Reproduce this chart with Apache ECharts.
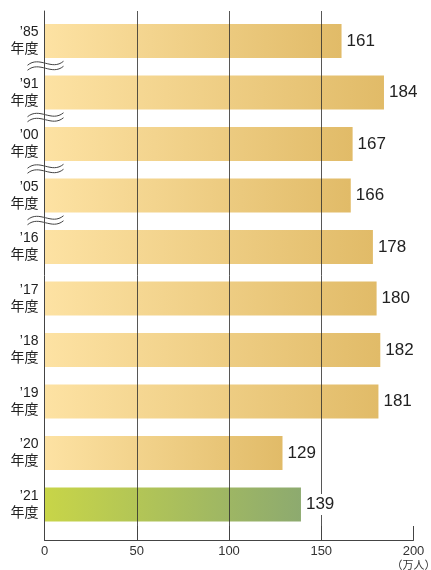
<!DOCTYPE html>
<html>
<head>
<meta charset="utf-8">
<script src="https://cdn.jsdelivr.net/npm/echarts@6/dist/echarts.min.js"></script>
<style>
html,body{margin:0;padding:0;background:#fff;}
#c{width:431px;height:570px;}
</style>
</head>
<body>
<div id="c"></div>
<script>
const years = ['’85', '’91', '’00', '’05', '’16', '’17', '’18', '’19', '’20', '’21'];
const values = [161, 184, 167, 166, 178, 180, 182, 181, 129, 139];
const highlight = [false, false, false, false, false, false, false, false, false, true];
const breaksAfter = [0, 1, 2, 3];
const xTicks = [0, 50, 100, 150, 200];
const unitLabel = '（万人）';

const FONT = '"Liberation Sans", Arial, "Noto Sans CJK JP", sans-serif';
const goldGrad = new echarts.graphic.LinearGradient(0, 0, 1, 0, [
  {offset: 0, color: '#fde2a3'},
  {offset: 1, color: '#e1bb68'}
]);
const greenGrad = new echarts.graphic.LinearGradient(0, 0, 1, 0, [
  {offset: 0, color: '#c8d548'},
  {offset: 1, color: '#8daa6f'}
]);

const chart = echarts.init(document.getElementById('c'), null, {renderer: 'canvas'});

const barData = values.map((v, i) => ({
  value: v,
  itemStyle: {color: highlight[i] ? greenGrad : goldGrad}
}));

chart.setOption({
  animation: false,
  backgroundColor: '#fff',
  textStyle: {fontFamily: FONT},
  grid: [
    {left: 44.5, right: 17.5, top: 15.25, height: 515, containLabel: false, outerBoundsMode: 'none'},
    {left: 44.5, right: 17.5, top: 11, height: 529, containLabel: false, outerBoundsMode: 'none'}
  ],
  xAxis: [
    {gridIndex: 0, type: 'value', min: 0, max: 200, interval: 50, show: false},
    {
      gridIndex: 1, type: 'value', min: 0, max: 200, interval: 50, z: 5,
      axisLine: {show: true, onZero: false, lineStyle: {color: '#444', width: 1}},
      axisTick: {show: true, inside: true, length: 14, lineStyle: {color: '#444', width: 1}},
      splitLine: {show: true, showMinLine: false, showMaxLine: false, lineStyle: {color: 'rgba(40,40,40,0.78)', width: 1}},
      axisLabel: {
        color: '#333', fontSize: 13, margin: 4, fontFamily: FONT, lineHeight: 14,
        formatter: v => v === xTicks[xTicks.length - 1] ? v + '\n{u|' + unitLabel + '}' : String(v),
        rich: {u: {fontSize: 11, color: '#333', fontFamily: '"Noto Sans CJK JP", sans-serif', lineHeight: 14}}
      }
    }
  ],
  yAxis: [
    {
      gridIndex: 0, type: 'category', data: years.map(y => y + '\n年度'), inverse: true,
      axisLine: {show: false}, axisTick: {show: false}, splitLine: {show: false},
      axisLabel: {color: '#222', fontSize: 14, lineHeight: 17, margin: 6, fontFamily: FONT}
    },
    {
      gridIndex: 1, type: 'value', min: 0, max: 1, z: 5,
      axisLine: {show: true, onZero: false, lineStyle: {color: '#444', width: 1}},
      axisTick: {show: false}, axisLabel: {show: false}, splitLine: {show: false}
    }
  ],
  series: [
    {
      type: 'bar', xAxisIndex: 0, yAxisIndex: 0, data: barData,
      barWidth: 34, z: 2
    },
    {
      type: 'bar', xAxisIndex: 0, yAxisIndex: 0, data: values,
      barWidth: 34, barGap: '-100%', z: 10, silent: true,
      itemStyle: {color: 'rgba(0,0,0,0)'},
      label: {
        show: true, position: 'right', distance: 3,
        color: '#222', fontSize: 17, fontFamily: FONT,
        backgroundColor: '#fff', padding: [3, 2, 1, 2]
      }
    }
  ]
});

// axis-break wave decorations between early categories
function bez(t, p0, p1, p2, p3) {
  const u = 1 - t;
  return u * u * u * p0 + 3 * u * u * t * p1 + 3 * u * t * t * p2 + t * t * t * p3;
}
const W = {x1: -18, y1: 1, cx1: -6, cy1: -9, cx2: 6, cy2: 7, x2: 18, y2: -3};
const GAP = 5;
const pts = [];
for (let k = 0; k <= 20; k++) {
  const t = k / 20;
  pts.push([bez(t, W.x1, W.cx1, W.cx2, W.x2), bez(t, W.y1, W.cy1, W.cy2, W.y2)]);
}
const fillPts = pts.concat(pts.slice().reverse().map(p => [p[0], p[1] + GAP]));

const x0 = chart.convertToPixel({xAxisIndex: 0}, 0);
const graphics = breaksAfter.map(i => {
  const y = (chart.convertToPixel({yAxisIndex: 0}, i) + chart.convertToPixel({yAxisIndex: 0}, i + 1)) / 2 - GAP / 2;
  const curve = dy => ({
    type: 'bezierCurve',
    shape: {x1: W.x1, y1: W.y1 + dy, cpx1: W.cx1, cpy1: W.cy1 + dy, cpx2: W.cx2, cpy2: W.cy2 + dy, x2: W.x2, y2: W.y2 + dy},
    style: {fill: null, stroke: '#444', lineWidth: 1}
  });
  return {
    type: 'group', x: x0 + 1, y: y, z: 20,
    children: [
      {type: 'polygon', shape: {points: fillPts}, style: {fill: '#fff', stroke: null}},
      curve(0),
      curve(GAP)
    ]
  };
});
chart.setOption({graphic: graphics});
</script>
</body>
</html>
